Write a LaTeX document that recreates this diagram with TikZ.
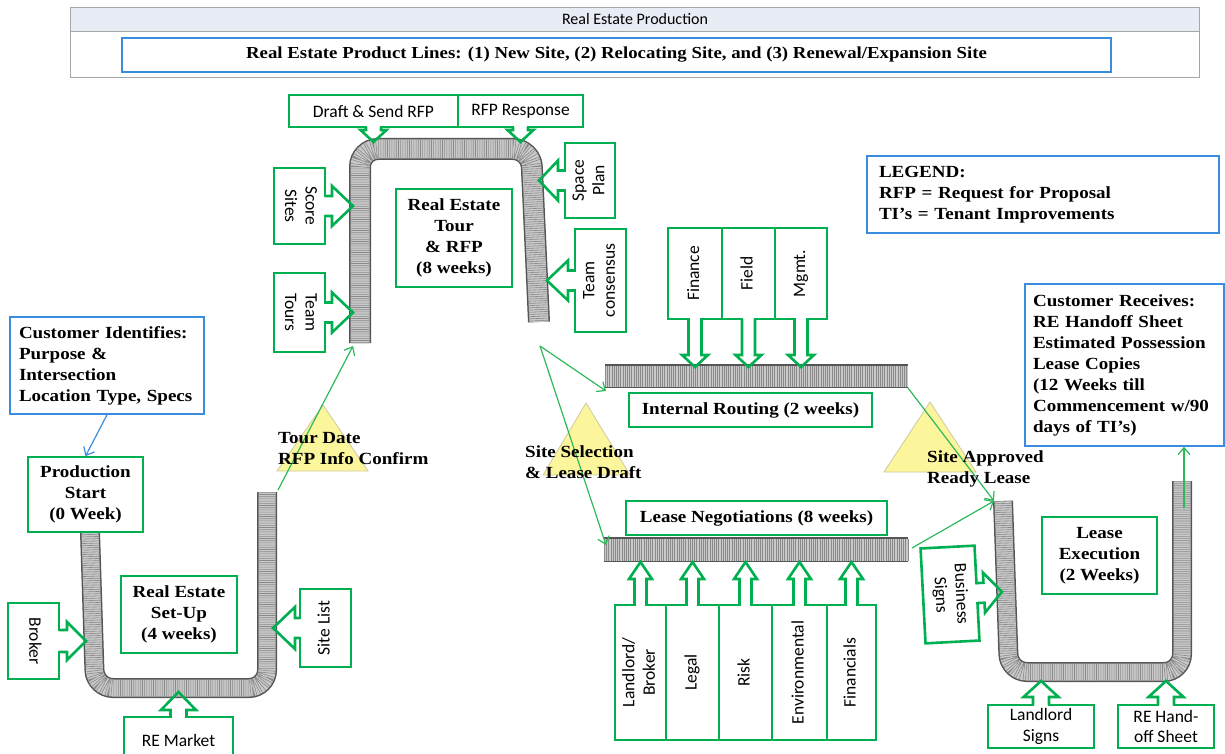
\documentclass[tikz,border=0pt]{standalone}
\usepackage{fontspec}
\usetikzlibrary{arrows.meta}
\newfontfamily\serifb[FakeStretch=1.12]{Liberation Serif}
\newfontfamily\sansf{Carlito}

\definecolor{boxgreen}{HTML}{00B050}
\definecolor{flowgreen}{HTML}{2EB85C}
\definecolor{noteblue}{HTML}{3A8DDE}
\definecolor{pipeedge}{HTML}{555555}
\definecolor{pipebody}{HTML}{C9C9C9}
\definecolor{piperib}{HTML}{8A8A8A}
\definecolor{triyellow}{HTML}{FBF59C}
\definecolor{triedge}{HTML}{CFC9A0}
\definecolor{headgray}{HTML}{A6A6A6}
\definecolor{headfill}{HTML}{E8ECF5}

% rotated text for the upright input boxes
\newcommand\vtxt[2]{\rotatebox{#1}{\begin{tabular}{@{}c@{}}#2\end{tabular}}}
% arrow tab on a box side: anchor, angle, shaft length, tip length, shaft half, head half
\newcommand\calltab[6]{%
  \begin{scope}[shift={(#1)},rotate=#2]
    \fill[white] (-2,-#5+1.3) rectangle (2,#5-1.3);
    \draw[tabline] (0,-#5) -- (#3,-#5) -- (#3,-#6) -- (#4,0) -- (#3,#6) -- (#3,#5) -- (0,#5);
  \end{scope}}

\begin{document}
\begin{tikzpicture}[x=1pt,y=-1pt,
    proc/.style={draw=boxgreen, line width=1.6pt, fill=white, align=center, inner sep=0pt,
      font=\serifb\bfseries\fontsize{17}{21}\selectfont},
    tabbox/.style={draw=boxgreen, line width=2.6pt, fill=white, align=center, inner sep=0pt,
      outer sep=0pt, font=\sansf\fontsize{17.5}{20.5}\selectfont},
    tabline/.style={draw=boxgreen, line width=2.6pt},
    note/.style={draw=noteblue, line width=1.5pt, align=left, inner ysep=0pt,
      font=\serifb\bfseries\fontsize{17}{21}\selectfont},
    milestone/.style={align=left, inner sep=1pt, font=\serifb\bfseries\fontsize{17}{21}\selectfont},
    pipe/.style={line width=#1, draw=pipeedge, rounded corners=18pt,
      postaction={draw=pipebody, line width=#1-3pt},
      postaction={draw=piperib, line width=#1-3pt, dash pattern=on 0.6pt off 1.6pt}},
    flow/.style={draw=flowgreen, line width=1.2pt, -{Straight Barb[length=7pt,width=12pt]}},
    tri/.style={fill=triyellow, draw=triedge, line width=0.8pt}]
  \useasboundingbox (0,0) rectangle (1225,754);

  % header
  \node[draw=headgray, line width=1pt, minimum width=1129pt, minimum height=70pt,
    anchor=north west, inner sep=0pt] (frame) at (70,7) {};
  \node[draw=headgray, fill=headfill, line width=1pt, minimum width=1129pt, minimum height=24pt,
    anchor=north west, inner sep=0pt, font=\sansf\fontsize{16}{18}\selectfont] (title) at (70,7) {Real Estate Production};
  \node[note, align=center, minimum width=989pt, minimum height=34pt, inner sep=0pt,
    font=\serifb\bfseries\fontsize{16.8}{19}\selectfont] (lines) at (616.5,55)
    {Real Estate Product Lines: (1) New Site, (2) Relocating Site, and (3) Renewal/Expansion Site};

  % milestones
  \draw[tri] (323,405) -- (368,471) -- (277,471) -- cycle;
  \draw[tri] (586,403) -- (630,475) -- (543,475) -- cycle;
  \draw[tri] (930,402) -- (976,472) -- (884,472) -- cycle;

  % pipes
  \coordinate (lu1) at (90,532);
  \coordinate (lu2) at (95,688);
  \coordinate (lu3) at (267,688);
  \coordinate (lu4) at (267,492);
  \draw[pipe=20pt] (lu1) -- (lu2) -- (lu3) -- (lu4);
  \coordinate (tp1) at (360,343);
  \coordinate (tp2) at (360,149);
  \coordinate (tp3) at (531,149);
  \coordinate (tp4) at (539,322);
  \draw[pipe=22pt] (tp1) -- (tp2) -- (tp3) -- (tp4);
  \coordinate (rp1) at (605,376);
  \coordinate (rp2) at (908,376);
  \draw[pipe=24pt] (rp1) -- (rp2);
  \coordinate (lp1) at (604,549.5);
  \coordinate (lp2) at (908,549.5);
  \draw[pipe=25pt] (lp1) -- (lp2);
  \coordinate (ru1) at (1003,501);
  \coordinate (ru2) at (1009,672);
  \coordinate (ru3) at (1182,672);
  \coordinate (ru4) at (1182,481);
  \draw[pipe=20pt] (ru1) -- (ru2) -- (ru3) -- (ru4);

  % process boxes
  \node[proc, minimum width=115pt, minimum height=75pt] (prodstart) at (85.5,494.5) {Production\\Start\\(0 Week)};
  \node[proc, minimum width=116pt, minimum height=77pt] (setup) at (179,614.5) {Real Estate\\Set-Up\\(4 weeks)};
  \node[proc, minimum width=116pt, minimum height=98pt] (tour) at (454,238) {Real Estate\\Tour\\\& RFP\\(8 weeks)};
  \node[proc, minimum width=243pt, minimum height=34pt] (routing) at (750.5,410) {Internal Routing (2 weeks)};
  \node[proc, minimum width=261pt, minimum height=34pt] (negot) at (756.5,518) {Lease Negotiations (8 weeks)};
  \node[proc, minimum width=115pt, minimum height=77pt] (execute) at (1099.5,555.5) {Lease\\Execution\\(2 Weeks)};

  % notes
  \node[note, text width=176pt, inner xsep=9pt, minimum height=97pt] (custid) at (107,365.5)
    {Customer Identifies:\\Purpose \&\\Intersection\\Location Type, Specs};
  \node[note, text width=328pt, inner xsep=12pt, minimum height=77pt] (legend) at (1043,194.5)
    {LEGEND:\\RFP = Request for Proposal\\TI’s = Tenant Improvements};
  \node[note, text width=183pt, inner xsep=8pt, minimum height=162pt] (custrec) at (1124.5,365)
    {Customer Receives:\\RE Handoff Sheet\\Estimated Possession\\Lease Copies\\(12 Weeks till\\Commencement w/90\\days of TI’s)};

  % set-up inputs
  \node[tabbox, minimum width=51pt, minimum height=76pt] (broker) at (33.5,641) {\vtxt{-90}{Broker}};
  \calltab{broker.east}{0}{8}{27}{11}{19}
  \node[tabbox, minimum width=51pt, minimum height=78pt] (sitelist) at (325.5,628) {\vtxt{90}{Site List}};
  \calltab{sitelist.west}{180}{5}{27}{10}{21}
  \node[tabbox, minimum width=109pt, minimum height=46pt] (remarket) at (178.5,740) {RE Market};
  \calltab{remarket.north}{90}{7}{25}{8}{17.5}

  % tour inputs
  \node[tabbox, minimum width=51pt, minimum height=76pt] (score) at (299.5,206) {\vtxt{-90}{Score\\Sites}};
  \calltab{score.east}{0}{7}{28}{10}{20}
  \node[tabbox, minimum width=51pt, minimum height=79pt] (teamtours) at (299.5,312.5) {\vtxt{-90}{Team\\Tours}};
  \calltab{teamtours.east}{0}{7}{28}{10}{20}
  \node[tabbox, minimum width=169pt, minimum height=32pt] (draft) at (373.5,111) {Draft \& Send RFP};
  \calltab{draft.south}{-90}{3}{15}{7.5}{13}
  \node[tabbox, minimum width=125pt, minimum height=32pt] (response) at (520.5,111) {RFP Response};
  \calltab{response.south}{-90}{3}{15}{7.5}{13}
  \node[tabbox, minimum width=50pt, minimum height=75pt] (space) at (590,180.5) {\vtxt{90}{Space\\Plan}};
  \calltab{space.west}{180}{7}{26}{10}{20}
  \node[tabbox, minimum width=51pt, minimum height=103pt] (consensus) at (600.5,280.5) {\vtxt{90}{Team\\consensus}};
  \calltab{consensus.west}{180}{7}{28}{10}{20}

  % routing inputs
  \node[tabbox, minimum width=54pt, minimum height=91pt] (finance) at (695,273.5) {\vtxt{90}{Finance}};
  \calltab{finance.south}{-90}{36}{48}{6.5}{13}
  \node[tabbox, minimum width=53pt, minimum height=91pt] (field) at (748.5,273.5) {\vtxt{90}{Field}};
  \calltab{field.south}{-90}{36}{48}{6.5}{13}
  \node[tabbox, minimum width=52pt, minimum height=91pt] (mgmt) at (801,273.5) {\vtxt{90}{Mgmt.}};
  \calltab{mgmt.south}{-90}{36}{48}{6.5}{13}

  % negotiation inputs
  \node[tabbox, minimum width=51pt, minimum height=135pt] (landlord) at (640.5,672.5) {\vtxt{90}{Landlord/\\Broker}};
  \calltab{landlord.north}{90}{26}{43}{6}{11.5}
  \node[tabbox, minimum width=53pt, minimum height=135pt] (legal) at (692.5,672.5) {\vtxt{90}{Legal}};
  \calltab{legal.north}{90}{26}{43}{6}{11.5}
  \node[tabbox, minimum width=53pt, minimum height=135pt] (risk) at (745.5,672.5) {\vtxt{90}{Risk}};
  \calltab{risk.north}{90}{26}{43}{6}{11.5}
  \node[tabbox, minimum width=55pt, minimum height=135pt] (environ) at (799.5,672.5) {\vtxt{90}{Environmental}};
  \calltab{environ.north}{90}{26}{43}{6}{11.5}
  \node[tabbox, minimum width=49pt, minimum height=135pt] (financials) at (851.5,672.5) {\vtxt{90}{Financials}};
  \calltab{financials.north}{90}{26}{43}{6}{11.5}

  % execution inputs
  \node[tabbox, rotate=3, minimum width=54pt, minimum height=95pt] (bizsigns) at (950,594.5) {\vtxt{-90}{Business\\Signs}};
  \calltab{bizsigns.east}{3}{7}{25}{10}{20}
  \node[tabbox, minimum width=106pt, minimum height=43pt] (llsigns) at (1041,726.5) {Landlord\\Signs};
  \calltab{llsigns.north}{90}{8}{24}{8}{17.5}
  \node[tabbox, minimum width=96pt, minimum height=43pt] (handoff) at (1166,726.5) {RE Hand-\\off Sheet};
  \calltab{handoff.north}{90}{8}{24}{8}{17.5}

  % flow
  \coordinate (t1) at (278,490);
  \coordinate (t2) at (353,346);
  \coordinate (s0) at (540,346);
  \coordinate (s1) at (606,391);
  \coordinate (s2) at (606,545);
  \coordinate (r1) at (908,388);
  \coordinate (r2) at (912,548);
  \coordinate (e0) at (994,501);
  \coordinate (h0) at (1184,508);
  \draw[flow] (t1) -- (t2);
  \draw[flow] (s0) -- (s1);
  \draw[flow] (s0) -- (s2);
  \draw[flow] (r1) -- (e0);
  \draw[flow] (r2) -- (e0);
  \draw[flow] (h0) -- (h0 |- custrec.south);
  \draw[flow, draw=noteblue] (custid.south) -- (prodstart.north);

  % milestone labels
  \node[milestone, anchor=west] (tourdate) at (277,448.5) {Tour Date\\RFP Info Confirm};
  \node[milestone, anchor=west] (sitesel) at (524,462) {Site Selection\\\& Lease Draft};
  \node[milestone, anchor=west] (siteok) at (926,469) {Site Approved\\Ready Lease};
\end{tikzpicture}
\end{document}
